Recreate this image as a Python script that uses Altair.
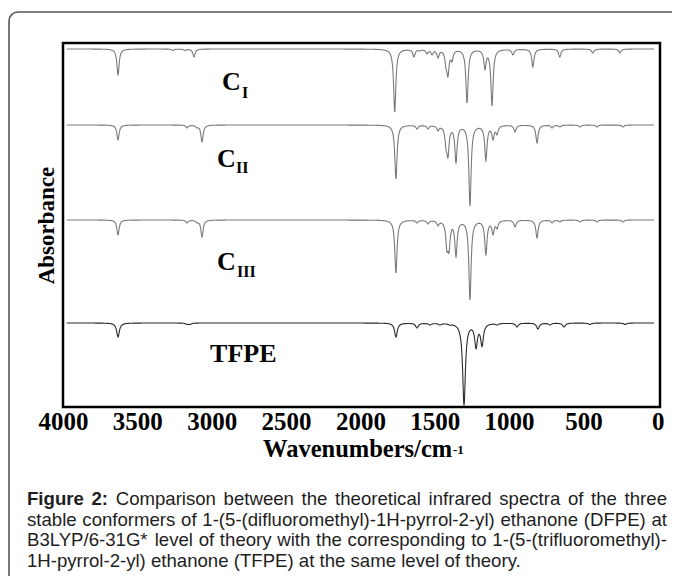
import numpy as np
import pandas as pd
import altair as alt

# ---------------- data ----------------
series_names = ["C_I", "C_II", "C_III", "TFPE"]
levels = [358, 282, 187, 84]          # baseline offset of each trace
widths = [9, 9, 9, 11]                # band half-width (cm-1)

ci_pos = [3630, 3260, 3180, 3119, 1769, 1640, 1600, 1552, 1518, 1478, 1424, 1411,
          1384, 1283, 1162, 1115, 974, 840, 659, 437, 255]
ci_dep = [26, 1.5, 1.5, 8, 63, 8, 2, 5, 6, 9, 20, 28, 13, 54, 21, 57, 6, 18, 8, 4, 4]

cii_pos = [3630, 3166, 3099, 3065, 1761, 1619, 1545, 1478, 1424, 1411, 1357, 1263,
           1156, 1108, 1081, 960, 812, 711, 658, 523, 409, 234]
cii_dep = [15, 3, 3, 17, 54, 4, 4, 6, 25, 33, 38, 81, 36, 15, 10, 7, 18, 3, 2, 2, 2, 2]

ciii_pos = [3630, 3166, 3099, 3065, 1761, 1619, 1545, 1478, 1418, 1404, 1357, 1263,
            1156, 1108, 1081, 960, 812, 711, 658, 523, 409, 234]
ciii_dep = [15, 3, 3, 17, 53, 3, 4, 6, 32, 33, 37, 80, 35, 15, 9, 7, 18, 3, 2, 2, 2, 2]

tfpe_pos = [3630, 3166, 3146, 1761, 1619, 1532, 1465, 1398, 1330, 1318, 1303, 1222,
            1202, 1182, 1081, 947, 806, 725, 631, 456, 220]
tfpe_dep = [14, 1.5, 1.5, 14, 5, 2, 2, 2, 7, 20, 79, 25, 8, 23, 2, 4, 6, 2, 4, 1.5, 1.5]

peak_pos = [ci_pos, cii_pos, ciii_pos, tfpe_pos]
peak_dep = [ci_dep, cii_dep, ciii_dep, tfpe_dep]

x_ticks = [4000, 3500, 3000, 2500, 2000, 1500, 1000, 500, 0]

label_text = ["C", "C", "C", "TFPE"]
label_w = [2931, 2964, 2964, 3011]
label_y = [317, 240, 137, 45]
sub_text = ["I", "II", "III"]
sub_w = [2796, 2837, 2830]
sub_y = [309, 234, 130]

caption_bold = "Figure 2:"
caption_lines = [
    "Comparison between the theoretical infrared spectra of the three",
    "stable conformers of 1-(5-(difluoromethyl)-1H-pyrrol-2-yl) ethanone (DFPE) at",
    "B3LYP/6-31G* level of theory with the corresponding to 1-(5-(trifluoromethyl)-",
    "1H-pyrrol-2-yl) ethanone (TFPE) at the same level of theory.",
]

# ---------------- build band profiles from the peak list ----------------
rows = []
for name, lev, g, pos, dep in zip(series_names, levels, widths, peak_pos, peak_dep):
    c = np.array(pos, dtype=float)
    d = np.array(dep, dtype=float)
    M = g**2 / ((c[:, None] - c[None, :])**2 + g**2)
    a = np.clip(np.linalg.solve(M, d), 0, None)
    w = np.union1d(np.arange(25, 3976, 2.0), np.concatenate([c, c - 1, c + 1]))
    spec = (a[None, :] * g**2 / ((w[:, None] - c[None, :])**2 + g**2)).sum(axis=1)
    for wi, si in zip(w, spec):
        rows.append({"wavenumber": float(wi), "absorbance": round(lev - si, 2), "series": name})
df = pd.DataFrame(rows)

xscale = alt.Scale(domain=[-15, 4000], reverse=True, nice=False, zero=False)
yscale = alt.Scale(domain=[0, 364], nice=False, zero=False)

lines = alt.Chart(df).mark_line(interpolate="linear").encode(
    x=alt.X("wavenumber:Q", scale=xscale,
            axis=alt.Axis(values=x_ticks, title=None, domain=False, ticks=False, grid=False,
                          labelFont="Liberation Serif", labelFontSize=25, labelFontWeight="bold",
                          labelColor="black", labelPadding=2, labelFlush=False,
                          labelOverlap=False, format="d")),
    y=alt.Y("absorbance:Q", scale=yscale,
            axis=alt.Axis(title="Absorbance", labels=False, ticks=False, domain=False, grid=False,
                          titleFont="Liberation Serif", titleFontSize=23, titleFontWeight="bold",
                          titleColor="black", titlePadding=5)),
    color=alt.Color("series:N", legend=None,
                    scale=alt.Scale(domain=series_names,
                                    range=["#7a7a7a", "#7a7a7a", "#7a7a7a", "#2a2a2a"])),
    size=alt.Size("series:N", legend=None,
                  scale=alt.Scale(domain=series_names, range=[1.1, 1.1, 1.1, 1.4])),
    detail="series:N",
)

lab_df = pd.DataFrame({"t": label_text, "w": label_w, "y": label_y})
labels = alt.Chart(lab_df).mark_text(
    font="Liberation Serif", fontSize=26, fontWeight="bold", color="black",
    align="left", baseline="alphabetic"
).encode(x=alt.X("w:Q", scale=xscale), y=alt.Y("y:Q", scale=yscale), text="t:N")

sub_df = pd.DataFrame({"t": sub_text, "w": sub_w, "y": sub_y})
subs = alt.Chart(sub_df).mark_text(
    font="Liberation Serif", fontSize=16, fontWeight="bold", color="black",
    align="left", baseline="alphabetic"
).encode(x=alt.X("w:Q", scale=xscale), y=alt.Y("y:Q", scale=yscale), text="t:N")

one = pd.DataFrame({"k": [0]})

def txt(s, x, y, size, font, weight="normal", color="black"):
    return alt.Chart(one).mark_text(
        text=s, font=font, fontSize=size, fontWeight=weight, color=color,
        align="left", baseline="alphabetic"
    ).encode(x=alt.value(x), y=alt.value(y))

xtitle = txt("Wavenumbers/cm", 200, 414, 24.5, "Liberation Serif", "bold")
xsup = txt("-1", 390, 411, 13, "Liberation Serif", "bold")

# ---------------- justified caption (Arial/Liberation Sans metrics) ----------------
_norm = {" ": 278, "(": 333, ")": 333, "*": 389, ",": 278, "-": 333, ".": 278, "/": 278,
         ":": 278, "A": 667, "B": 667, "C": 722, "D": 722, "E": 667, "F": 611, "G": 778,
         "H": 722, "I": 278, "L": 556, "P": 667, "T": 611, "Y": 667, "a": 556, "b": 556,
         "c": 500, "d": 556, "e": 556, "f": 278, "g": 556, "h": 556, "i": 222, "j": 222,
         "k": 500, "l": 222, "m": 833, "n": 556, "o": 556, "p": 556, "q": 556, "r": 333,
         "s": 500, "t": 278, "u": 556, "v": 500, "w": 722, "x": 500, "y": 500, "z": 500}
_bold = {"F": 611, "i": 278, "g": 611, "u": 611, "r": 389, "e": 556, ":": 333, " ": 278}


def text_w(s, bold, fs):
    tot = 0
    for ch in s:
        if ch.isdigit():
            tot += 556
        elif bold:
            tot += _bold.get(ch, 600)
        else:
            tot += _norm.get(ch, 556)
    return tot * fs / 1000.0


cap_fs = 18.6
cap_left = -36
cap_width = 640
cap_base = [462, 482.5, 503, 523.5]
cap_rows = []
for li, line in enumerate(caption_lines):
    toks = [(t, False) for t in line.split(" ")]
    if li == 0:
        toks = [(t, True) for t in caption_bold.split(" ")] + toks
    ws = [text_w(t, b, cap_fs) for t, b in toks]
    if li < len(caption_lines) - 1:
        gap = (cap_width - sum(ws)) / (len(toks) - 1)
    else:
        gap = text_w(" ", False, cap_fs)
    xx = cap_left
    for (t, b), wd in zip(toks, ws):
        cap_rows.append({"word": t, "px": round(xx, 2), "py": cap_base[li], "bold": b})
        xx += wd + gap
cap_df = pd.DataFrame(cap_rows)

cap_col = "#1e1e1e"
cap_norm = alt.Chart(cap_df[~cap_df["bold"]]).mark_text(
    font="Liberation Sans", fontSize=cap_fs, color=cap_col, align="left", baseline="alphabetic"
).encode(x=alt.X("px:Q", scale=None), y=alt.Y("py:Q", scale=None), text="word:N")
cap_bold = alt.Chart(cap_df[cap_df["bold"]]).mark_text(
    font="Liberation Sans", fontSize=cap_fs, fontWeight="bold", color=cap_col,
    align="left", baseline="alphabetic"
).encode(x=alt.X("px:Q", scale=None), y=alt.Y("py:Q", scale=None), text="word:N")

box = alt.Chart(one).mark_rect(
    fillOpacity=0, stroke="#555555", strokeWidth=1.6, cornerRadius=9
).encode(x=alt.value(-54), y=alt.value(-31), x2=alt.value(640), y2=alt.value(560))

chart = alt.layer(box, lines, labels, subs, xtitle, xsup, cap_norm, cap_bold).properties(
    width=597, height=364,
    padding={"left": 55, "top": 35, "right": 12, "bottom": 169},
    autosize=alt.AutoSizeParams(type="none"),
    background="white",
).configure_view(stroke="black", strokeWidth=2.5)

chart.save("out.html", embed_options={"renderer": "svg", "actions": False})
